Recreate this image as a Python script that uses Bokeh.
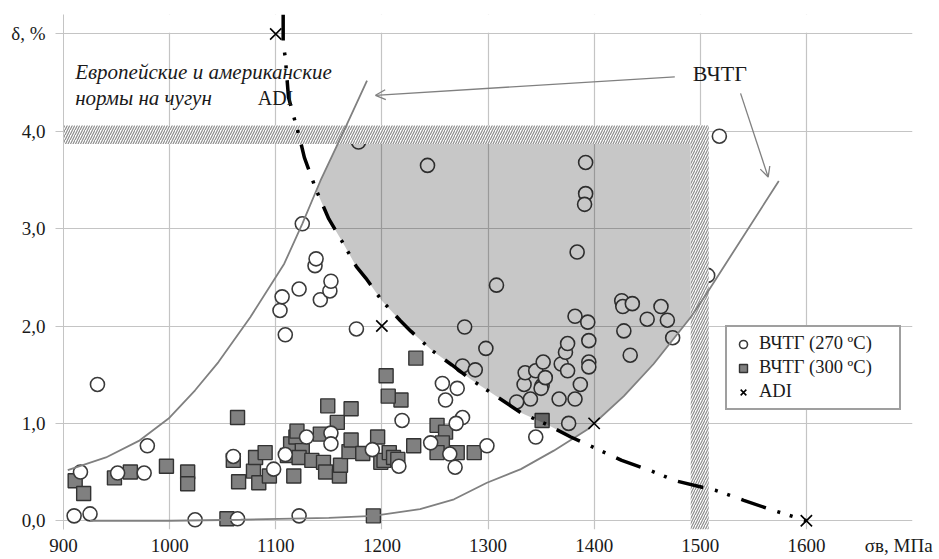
from bokeh.plotting import figure
from bokeh.models import (Range1d, FixedTicker, Label, Arrow, OpenHead, Legend, LegendItem)
from bokeh.embed import file_html
from bokeh.resources import INLINE

# ---------------- data ----------------
grid_x = [900, 1000, 1100, 1200, 1300, 1400, 1500, 1600, 1700]
x_ticks = [900, 1000, 1100, 1200, 1300, 1400, 1500, 1600, 1687]
x_tick_labels = ["900", "1000", "1100", "1200", "1300", "1400", "1500", "1600", "σв, МПа"]
y_ticks = [0, 1, 2, 3, 4, 5]
y_tick_labels = ["0,0", "1,0", "2,0", "3,0", "4,0", "δ, %"]

# ВЧТГ (270 ºC) – open circles
c270_x = [932, 979, 916, 951, 976, 910, 925, 1024, 1060, 1064,
          1098, 1109, 1129, 1152, 1152, 1122, 1191, 1216, 1219, 1246,
          1176, 1109, 1104, 1106, 1122, 1142, 1151, 1152, 1137, 1138, 1125,
          1178, 1243,
          1257, 1271, 1260, 1276, 1270, 1264, 1269, 1299,
          1278, 1298, 1308, 1276, 1288,
          1345, 1376, 1327, 1340, 1334, 1351, 1350, 1367, 1382, 1387,
          1335, 1345, 1354, 1352, 1369, 1375, 1373, 1375, 1395, 1395, 1395,
          1382, 1394, 1384, 1392, 1392, 1391,
          1426, 1427, 1436, 1463, 1450, 1469, 1474, 1428, 1434,
          1518, 1507]
c270_y = [1.40, 0.77, 0.50, 0.49, 0.49, 0.05, 0.07, 0.01, 0.66, 0.02,
          0.53, 0.68, 0.86, 0.90, 0.79, 0.05, 0.73, 0.56, 1.03, 0.80,
          1.97, 1.91, 2.16, 2.30, 2.38, 2.27, 2.36, 2.46, 2.62, 2.69, 3.05,
          3.89, 3.65,
          1.41, 1.36, 1.24, 1.06, 1.00, 0.685, 0.55, 0.77,
          1.99, 1.77, 2.42, 1.59, 1.55,
          0.86, 1.00, 1.22, 1.25, 1.40, 1.39, 1.36, 1.25, 1.25, 1.40,
          1.52, 1.54, 1.47, 1.63, 1.61, 1.54, 1.73, 1.82, 1.63, 1.58, 1.85,
          2.10, 2.04, 2.76, 3.68, 3.36, 3.25,
          2.26, 2.20, 2.23, 2.20, 2.07, 2.06, 1.88, 1.95, 1.70,
          3.95, 2.52]

# ВЧТГ (300 ºC) – grey squares
c300_x = [911, 919, 948, 963, 997, 1017, 1017, 1064, 1060, 1065, 1054,
          1079, 1081, 1084, 1090, 1094, 1111, 1114, 1117, 1119, 1120, 1125, 1122,
          1134, 1142, 1145, 1147, 1149, 1158, 1160, 1161, 1169, 1171, 1171,
          1182, 1196, 1199, 1202, 1207, 1211, 1215, 1218, 1206, 1204, 1232,
          1230, 1192,
          1252, 1260, 1257, 1252, 1271, 1287, 1351]
c300_y = [0.41, 0.28, 0.44, 0.50, 0.56, 0.50, 0.38, 1.06, 0.62, 0.40, 0.02,
          0.51, 0.65, 0.39, 0.70, 0.46, 0.67, 0.79, 0.46, 0.86, 0.92, 0.72, 0.65,
          0.62, 0.89, 0.60, 0.50, 1.18, 1.01, 0.46, 0.57, 0.71, 1.15, 0.83,
          0.69, 0.86, 0.60, 0.62, 0.70, 0.65, 0.63, 1.24, 1.28, 1.49, 1.67,
          0.77, 0.05,
          0.98, 0.91, 0.80, 0.70, 0.70, 0.70, 1.03]

# ADI points
adi_x = [1100, 1200, 1400, 1600]
adi_y = [5.0, 2.0, 1.0, 0.0]

# ADI boundary curve (dash-dot)
adi_curve_x = [1107, 1107, 1109, 1112, 1119, 1123, 1127, 1138, 1150, 1163, 1176,
               1185, 1200, 1217, 1227, 1247, 1266, 1284, 1309, 1331, 1357, 1378,
               1400, 1426, 1452, 1477, 1515, 1541, 1565, 1600]
adi_curve_y = [5.20, 4.90, 4.76, 4.35, 4.07, 3.91, 3.73, 3.40, 3.10, 2.86, 2.61,
               2.49, 2.26, 2.06, 1.95, 1.75, 1.60, 1.45, 1.27, 1.11, 0.98, 0.86,
               0.75, 0.62, 0.52, 0.41, 0.31, 0.21, 0.12, 0.0]

# ВЧТГ envelope curves
upper_x = [904, 940, 971, 999, 1024, 1046, 1076, 1108, 1125, 1142, 1164, 1186]
upper_y = [0.52, 0.65, 0.82, 1.05, 1.34, 1.63, 2.09, 2.64, 3.05, 3.49, 4.00, 4.52]
lower_x = [925, 1000, 1067, 1150, 1192, 1236, 1268, 1299, 1331, 1362, 1394,
           1428, 1456, 1491, 1507, 1574]
lower_y = [0.0, 0.0, 0.01, 0.03, 0.05, 0.12, 0.22, 0.39, 0.53, 0.72, 0.94,
           1.28, 1.61, 2.09, 2.35, 3.49]

# shaded area (ВЧТГ inside the norms)
region_x = [1158, 1491, 1491, 1456, 1428, 1394, 1380, 1357, 1331, 1309, 1284,
            1266, 1247, 1227, 1217, 1200, 1185, 1176, 1163, 1150, 1138, 1142]
region_y = [3.87, 3.87, 2.09, 1.61, 1.28, 0.94, 0.85, 0.98, 1.11, 1.27, 1.45,
            1.60, 1.75, 1.95, 2.06, 2.26, 2.49, 2.61, 2.86, 3.10, 3.40, 3.49]

# norm bands (hatched): elongation limit and strength limit
norm_left = [900, 1491]
norm_right = [1508, 1508]
norm_bottom = [3.87, -0.09]
norm_top = [4.06, 4.06]

# ---------------- figure ----------------
FONT = "Liberation Serif"
TXT = "#1a1a1a"
p = figure(width=939, height=559, x_range=Range1d(900, 1700), y_range=Range1d(-0.09, 5.2),
           output_backend="svg", toolbar_location=None,
           min_border_left=63, min_border_right=27, min_border_top=14, min_border_bottom=30)
p.outline_line_color = None
p.background_fill_color = "white"

p.xaxis.ticker = FixedTicker(ticks=x_ticks)
p.yaxis.ticker = FixedTicker(ticks=y_ticks)
p.xgrid.ticker = FixedTicker(ticks=grid_x)
p.ygrid.ticker = FixedTicker(ticks=y_ticks)
p.xaxis.major_label_overrides = {t: l for t, l in zip(x_ticks, x_tick_labels)}
p.yaxis.major_label_overrides = {t: l for t, l in zip(y_ticks, y_tick_labels)}
p.xaxis.major_label_text_font = FONT
p.yaxis.major_label_text_font = FONT
p.xaxis.major_label_text_font_size = "19px"
p.yaxis.major_label_text_font_size = "19px"
p.xaxis.major_label_text_color = TXT
p.yaxis.major_label_text_color = TXT
p.xaxis.minor_tick_line_color = None
p.yaxis.minor_tick_line_color = None
p.xaxis.axis_line_color = None
p.xaxis.major_tick_line_color = None
p.xaxis.major_tick_out = 0
p.xaxis.major_tick_in = 0
p.xaxis.major_label_standoff = 5
p.yaxis.axis_line_color = "#c4c4c4"
p.yaxis.major_tick_line_color = "#c4c4c4"
p.yaxis.major_tick_in = 0
p.yaxis.major_tick_out = 8
p.yaxis.major_label_standoff = 10

p.grid.grid_line_color = "#c4c4c4"
p.grid.grid_line_width = 1.2

# mask above the top border (keeps grid ending at 5,0)
p.quad(left=[900], right=[1700], bottom=[5.012], top=[5.2], fill_color="white", line_color=None)

sq = p.scatter(c300_x, c300_y, marker="square", size=14, fill_color="#808080",
               line_color="#333333", line_width=1.4)
ci = p.scatter(c270_x, c270_y, marker="circle", size=14, fill_color="white",
               line_color="#3a3a3a", line_width=1.6)

p.patch(region_x, region_y, fill_color="black", fill_alpha=0.22, line_color=None)

p.quad(left=norm_left, right=norm_right, bottom=norm_bottom, top=norm_top,
       fill_color="white", line_color=None, hatch_pattern="/", hatch_color="#8c8c8c",
       hatch_scale=5, hatch_weight=1.2)

p.line(upper_x, upper_y, line_color="#808080", line_width=1.8)
p.line(lower_x, lower_y, line_color="#808080", line_width=1.8)
p.line(adi_curve_x, adi_curve_y, line_color="black", line_width=3.5,
       line_dash="26 12 3 10 3 12")
xr = p.scatter(adi_x, adi_y, marker="x", size=16, line_color="black", line_width=1.6)

# ---------------- legend ----------------
legend = Legend(items=[LegendItem(label="ВЧТГ (270 ºC)", renderers=[ci]),
                       LegendItem(label="ВЧТГ (300 ºC)", renderers=[sq]),
                       LegendItem(label="ADI", renderers=[xr])],
                location=(662, 119))
legend.label_text_font = FONT
legend.label_text_font_size = "18.5px"
legend.label_text_color = TXT
legend.border_line_color = "#404040"
legend.border_line_width = 2
legend.background_fill_color = "white"
legend.background_fill_alpha = 1
legend.glyph_width = 20
legend.glyph_height = 20
legend.label_height = 20
legend.label_width = 134
legend.spacing = 3
legend.padding = 6
legend.margin = 0
legend.label_standoff = 6
p.add_layout(legend)

# ---------------- annotations ----------------
p.add_layout(Label(x=911, y=4.61, text="Европейские и американские", text_font=FONT,
                   text_font_style="italic", text_font_size="21px", text_baseline="middle",
                   text_color=TXT))
p.add_layout(Label(x=911, y=4.34, text="нормы на чугун", text_font=FONT,
                   text_font_style="italic", text_font_size="21px", text_baseline="middle",
                   text_color=TXT))
p.add_layout(Label(x=1083, y=4.34, text="ADI", text_font=FONT, text_font_size="20px",
                   text_baseline="middle", text_color=TXT))
p.add_layout(Label(x=1493, y=4.59, text="ВЧТГ", text_font=FONT, text_font_size="22px",
                   text_baseline="middle", text_color=TXT))

p.add_layout(Arrow(end=OpenHead(size=10, line_color="#808080", line_width=1.3),
                   x_start=1476, y_start=4.56, x_end=1194, y_end=4.37,
                   line_color="#808080", line_width=1.3))
p.add_layout(Arrow(end=OpenHead(size=10, line_color="#808080", line_width=1.3),
                   x_start=1538, y_start=4.39, x_end=1564, y_end=3.53,
                   line_color="#808080", line_width=1.3))

open("out.html", "w").write(file_html(p, INLINE))
